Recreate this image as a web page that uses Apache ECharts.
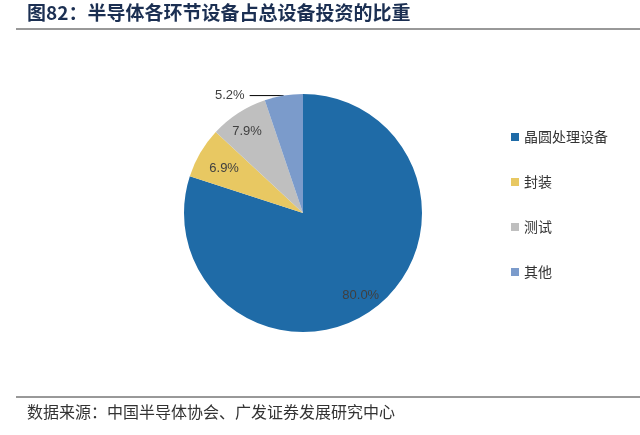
<!DOCTYPE html>
<html>
<head>
<meta charset="utf-8">
<script src="https://cdn.jsdelivr.net/npm/echarts@6/dist/echarts.min.js"></script>
<style>
html, body { margin: 0; padding: 0; background: #fff; }
#chart { width: 640px; height: 435px; }
</style>
</head>
<body>
<div id="chart"></div>
<script>
var categories = ['晶圆处理设备', '封装', '测试', '其他'];
var shares = [80.0, 6.9, 7.9, 5.2];
var colors = ['#1F6BA7', '#E8C862', '#BFBFBF', '#7B9BCB'];

// 标签相对默认内侧位置的偏移
var labelShift = [[21, 32], [-25, -13], [-22, -29], [0, 0]];

var pieData = [];
for (var i = 0; i < categories.length; i++) {
    var item = { name: categories[i], value: shares[i], itemStyle: { color: colors[i] } };
    if (i === 3) {
        item.label = { position: 'outside' };
        item.labelLine = { show: true, length: 0, length2: 34, lineStyle: { color: '#000', width: 1 } };
    }
    pieData.push(item);
}

var myChart = echarts.init(document.getElementById('chart'));
var option = {
    animation: false,
    graphic: [
        {
            type: 'text', left: 27, top: 3,
            style: { text: '图82：半导体各环节设备占总设备投资的比重', fontSize: 19, fontWeight: 'bold',
                     fill: '#1B2F52', fontFamily: 'Noto Sans CJK SC' }
        },
        { type: 'line', shape: { x1: 16, y1: 29, x2: 640, y2: 29 }, style: { stroke: '#333', lineWidth: 1 } },
        { type: 'line', shape: { x1: 16, y1: 397, x2: 640, y2: 397 }, style: { stroke: '#333', lineWidth: 1 } },
        {
            type: 'text', left: 27, top: 404,
            style: { text: '数据来源：中国半导体协会、广发证券发展研究中心', fontSize: 16,
                     fill: '#333', fontFamily: 'Noto Sans CJK SC' }
        }
    ],
    legend: {
        orient: 'vertical',
        left: 506,
        top: 125,
        itemGap: 31,
        itemWidth: 8,
        itemHeight: 8,
        icon: 'rect',
        textStyle: { fontSize: 14, color: '#333', fontFamily: 'Noto Sans CJK SC' },
        data: categories
    },
    series: [{
        type: 'pie',
        center: [303, 213],
        radius: ['0%', 119],
        startAngle: 90,
        clockwise: true,
        silent: true,
        label: {
            show: true,
            position: 'inside',
            formatter: function (p) { return p.value.toFixed(1) + '%'; },
            fontSize: 13,
            color: '#404040',
            fontFamily: 'Arial, Liberation Sans'
        },
        labelLine: { show: false },
        labelLayout: function (params) {
            var s = labelShift[params.dataIndex];
            return { dx: s[0], dy: s[1] };
        },
        data: pieData
    }]
};
myChart.setOption(option);
</script>
</body>
</html>
